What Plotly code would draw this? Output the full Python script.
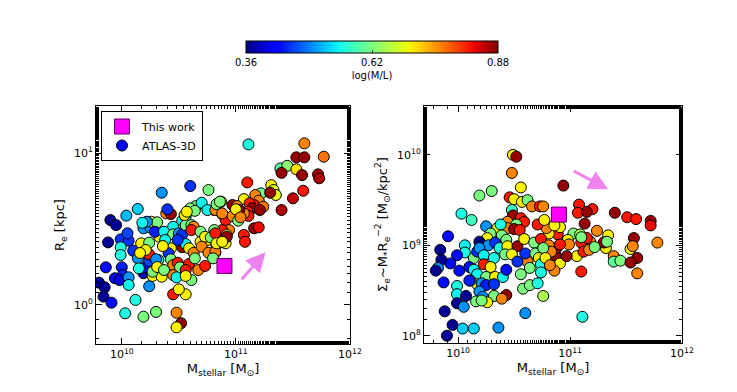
import numpy as np
import plotly.graph_objects as go

# ATLAS-3D, left panel: log10 M_stellar [Msun], log10 R_e [kpc], log(M/L)
left_logm = [11.11, 11.60, 11.77, 11.53, 11.60, 11.39, 11.45, 11.53, 11.40, 11.58,
             11.72, 11.73, 11.10, 11.59, 11.31, 11.33, 11.35, 11.22, 11.30, 11.50,
             11.40, 11.07, 11.17, 11.20, 11.16, 11.24, 11.12, 11.14, 11.21, 11.10,
             11.11, 11.07, 11.16, 11.20, 11.07, 11.08, 10.97, 11.01, 11.03, 10.87,
             10.81, 10.88, 10.91, 10.97, 11.02, 11.00, 11.04, 10.94, 10.88, 10.92,
             10.81, 10.81, 10.91, 10.83, 10.82, 10.92, 10.76, 10.35, 10.60, 10.14,
             10.04, 9.90, 9.95, 9.88, 9.99, 10.06, 10.05, 9.99, 9.99, 10.10,
             10.14, 9.86, 10.00, 10.01, 9.94, 9.98, 10.06, 10.06, 9.80, 9.85,
             9.84, 9.91, 10.12, 10.03, 10.19, 10.30, 10.48, 10.52, 10.48, 10.45,
             10.56, 10.50, 10.61, 10.24, 10.19, 10.21, 10.15, 10.27, 10.35, 10.27,
             10.32, 10.23, 10.24, 10.24, 10.17, 10.24, 10.21, 10.30, 10.19, 10.25,
             10.32, 10.33, 10.26, 10.31, 10.22, 10.18, 10.29, 10.39, 10.43, 10.40,
             10.45, 10.37, 10.45, 10.50, 10.53, 10.43, 10.41, 10.43, 10.45, 10.49,
             10.51, 10.45, 10.48, 10.53, 10.56, 10.59, 10.63, 10.59, 10.56, 10.56,
             10.67, 10.73, 10.64, 10.53, 10.56, 10.56, 10.61, 10.65, 10.60, 10.64,
             10.70, 10.75, 10.55, 10.57, 10.63, 10.61, 10.69, 10.75, 10.69, 10.73,
             10.78, 10.82, 10.82, 10.88, 10.83, 10.70, 10.76, 10.82, 10.80, 10.83,
             10.88, 10.86, 10.38, 10.36, 10.49, 10.31, 10.37, 10.16]
left_logr = [1.057, 1.064, 0.976, 0.972, 0.972, 0.899, 0.916, 0.893, 0.870, 0.855,
             0.860, 0.834, 0.807, 0.752, 0.789, 0.757, 0.724, 0.735, 0.739, 0.702,
             0.625, 0.697, 0.724, 0.686, 0.658, 0.647, 0.669, 0.636, 0.625, 0.614,
             0.586, 0.603, 0.505, 0.511, 0.461, 0.416, 0.658, 0.651, 0.625, 0.680,
             0.625, 0.599, 0.559, 0.586, 0.555, 0.630, 0.577, 0.493, 0.493, 0.461,
             0.449, 0.493, 0.406, 0.395, 0.344, 0.449, 0.757, 0.739, 0.783, 0.632,
             0.588, 0.559, 0.526, 0.412, 0.432, 0.423, 0.472, 0.380, 0.329, 0.357,
             0.307, 0.248, 0.248, 0.197, 0.176, 0.164, 0.182, 0.132, 0.147, 0.116,
             0.055, 0.015, 0.033, -0.055, -0.077, -0.046, -0.051, -0.120, -0.147, 0.070,
             0.070, 0.103, 0.164, 0.123, 0.209, 0.248, 0.241, 0.191, 0.186, 0.219,
             0.296, 0.329, 0.289, 0.334, 0.406, 0.410, 0.362, 0.301, 0.505, 0.511,
             0.467, 0.449, 0.548, 0.544, 0.548, 0.541, 0.482, 0.603, 0.599, 0.630,
             0.515, 0.482, 0.465, 0.472, 0.465, 0.373, 0.340, 0.301, 0.263, 0.278,
             0.248, 0.197, 0.182, 0.380, 0.401, 0.373, 0.344, 0.270, 0.230, 0.191,
             0.230, 0.257, 0.307, 0.555, 0.581, 0.526, 0.526, 0.651, 0.636, 0.620,
             0.673, 0.625, 0.592, 0.614, 0.515, 0.493, 0.482, 0.428, 0.416, 0.449,
             0.445, 0.472, 0.625, 0.603, 0.664, 0.384, 0.344, 0.351, 0.307, 0.406,
             0.416, 0.680, 0.428, 0.388, 0.428, 0.250, 0.230, 0.342]
left_ml = [0.56, 0.76, 0.77, 0.87, 0.87, 0.60, 0.63, 0.71, 0.87, 0.87,
           0.86, 0.86, 0.82, 0.82, 0.70, 0.68, 0.69, 0.61, 0.87, 0.85,
           0.86, 0.70, 0.76, 0.76, 0.82, 0.77, 0.82, 0.87, 0.87, 0.82,
           0.82, 0.76, 0.87, 0.83, 0.82, 0.82, 0.87, 0.76, 0.87, 0.70,
           0.76, 0.87, 0.82, 0.76, 0.62, 0.70, 0.76, 0.76, 0.82, 0.70,
           0.70, 0.62, 0.70, 0.76, 0.62, 0.87, 0.62, 0.50, 0.45, 0.53,
           0.52, 0.37, 0.37, 0.37, 0.45, 0.45, 0.46, 0.56, 0.56, 0.45,
           0.50, 0.43, 0.44, 0.44, 0.43, 0.40, 0.50, 0.55, 0.37, 0.37,
           0.37, 0.43, 0.56, 0.56, 0.62, 0.62, 0.76, 0.87, 0.70, 0.82,
           0.70, 0.70, 0.62, 0.50, 0.38, 0.42, 0.56, 0.70, 0.70, 0.62,
           0.55, 0.55, 0.46, 0.82, 0.70, 0.62, 0.70, 0.50, 0.50, 0.50,
           0.45, 0.70, 0.70, 0.62, 0.50, 0.55, 0.44, 0.76, 0.87, 0.45,
           0.55, 0.55, 0.62, 0.50, 0.45, 0.70, 0.45, 0.62, 0.76, 0.82,
           0.62, 0.76, 0.55, 0.87, 0.55, 0.70, 0.76, 0.82, 0.82, 0.70,
           0.76, 0.82, 0.62, 0.55, 0.55, 0.62, 0.62, 0.62, 0.62, 0.62,
           0.55, 0.55, 0.70, 0.70, 0.76, 0.82, 0.62, 0.70, 0.70, 0.70,
           0.62, 0.82, 0.76, 0.76, 0.62, 0.76, 0.76, 0.76, 0.62, 0.70,
           0.70, 0.62, 0.55, 0.70, 0.45, 0.70, 0.62, 0.70]

# ATLAS-3D, right panel: log10 M_stellar, log10 Sigma_e [Msun/kpc^2], log(M/L)
right_logm = [10.49, 10.52, 10.48, 10.56, 10.30, 10.19, 10.46, 10.50, 10.57, 10.62,
              10.66, 10.73, 10.03, 10.12, 10.48, 10.49, 10.56, 10.59, 10.44, 10.52,
              10.44, 10.50, 10.55, 10.25, 10.35, 10.38, 10.39, 10.29, 10.26, 9.91,
              10.19, 10.21, 10.27, 10.33, 10.37, 10.43, 10.44, 10.53, 10.59, 10.68,
              10.06, 9.84, 10.06, 9.99, 9.93, 9.85, 10.14, 10.17, 10.19, 10.23,
              10.23, 10.32, 10.42, 10.48, 10.62, 10.60, 10.69, 10.72, 10.74, 10.64,
              10.74, 9.82, 9.80, 10.01, 10.10, 10.14, 10.17, 10.29, 10.25, 10.33,
              10.40, 10.43, 10.53, 10.56, 10.17, 10.21, 10.25, 10.32, 10.11, 9.87,
              9.99, 10.10, 10.19, 10.22, 10.32, 9.99, 10.07, 10.16, 10.26, 10.21,
              10.43, 10.39, 10.58, 10.64, 10.71, 10.76, 9.99, 10.05, 9.88, 10.60,
              9.95, 10.04, 10.14, 10.36, 9.90, 10.94, 11.08, 11.07, 11.20, 11.15,
              11.40, 11.51, 11.59, 11.72, 11.72, 11.78, 11.57, 11.54, 11.60, 11.39,
              11.39, 11.45, 11.54, 11.60, 11.10, 11.11, 11.13, 11.34, 11.32, 11.30,
              11.24, 11.18, 11.10, 11.15, 11.06, 11.12, 11.17, 11.22, 11.03, 10.98,
              10.87, 10.91, 10.88, 10.89, 10.99, 10.91, 10.81, 10.91, 10.79, 10.71,
              10.74, 10.81, 10.83, 10.86, 10.86, 10.76, 10.78, 11.33, 11.56, 10.82,
              10.97, 11.09, 11.10, 10.77, 10.76]
right_logsig = [10.00, 9.98, 9.80, 9.64, 9.60, 9.55, 9.53, 9.51, 9.48, 9.50,
                9.43, 9.43, 9.35, 9.28, 9.39, 9.33, 9.30, 9.26, 9.26, 9.23,
                9.19, 9.18, 9.17, 9.21, 9.19, 9.23, 9.11, 9.13, 9.08, 9.10,
                9.04, 9.00, 9.00, 9.03, 8.97, 9.06, 8.99, 8.99, 9.07, 9.03,
                9.00, 8.95, 8.92, 8.89, 8.80, 8.84, 8.86, 8.93, 8.97, 8.89,
                8.79, 8.86, 8.90, 8.90, 8.82, 8.91, 8.91, 8.86, 8.79, 8.75,
                8.70, 8.75, 8.72, 8.72, 8.76, 8.73, 8.68, 8.76, 8.65, 8.65,
                8.65, 8.73, 8.82, 8.68, 8.57, 8.58, 8.56, 8.57, 8.61, 8.59,
                8.55, 8.61, 8.49, 8.43, 8.44, 8.46, 8.44, 8.38, 8.37, 8.39,
                8.45, 8.41, 8.52, 8.56, 8.58, 8.44, 8.36, 8.32, 8.27, 8.25,
                8.12, 8.08, 8.08, 8.09, 8.00, 9.66, 9.45, 9.36, 9.40, 9.37,
                9.36, 9.31, 9.29, 9.27, 9.22, 9.03, 9.08, 8.96, 8.86, 8.88,
                8.82, 8.83, 8.81, 8.69, 8.71, 8.21, 9.24, 9.11, 8.97, 9.03,
                9.16, 9.04, 9.03, 9.08, 8.88, 8.93, 8.95, 8.98, 9.13, 9.06,
                8.89, 8.80, 8.97, 9.12, 9.01, 9.01, 9.13, 9.20, 9.19, 9.23,
                9.07, 9.00, 8.93, 9.22, 8.72, 8.97, 8.86, 9.04, 8.99, 8.78,
                8.88, 9.12, 9.09, 9.28, 9.43]
right_ml = [0.70, 0.87, 0.76, 0.70, 0.62, 0.62, 0.82, 0.70, 0.70, 0.62,
            0.76, 0.82, 0.56, 0.58, 0.58, 0.87, 0.82, 0.82, 0.76, 0.62,
            0.76, 0.87, 0.82, 0.50, 0.70, 0.56, 0.62, 0.62, 0.70, 0.43,
            0.37, 0.37, 0.50, 0.45, 0.56, 0.62, 0.70, 0.87, 0.70, 0.62,
            0.55, 0.37, 0.56, 0.43, 0.43, 0.37, 0.62, 0.45, 0.50, 0.55,
            0.82, 0.56, 0.62, 0.70, 0.76, 0.45, 0.62, 0.70, 0.56, 0.62,
            0.56, 0.50, 0.37, 0.43, 0.43, 0.55, 0.55, 0.70, 0.62, 0.70,
            0.55, 0.43, 0.45, 0.62, 0.70, 0.50, 0.44, 0.45, 0.62, 0.43,
            0.56, 0.44, 0.50, 0.50, 0.62, 0.55, 0.37, 0.62, 0.70, 0.62,
            0.87, 0.76, 0.62, 0.62, 0.56, 0.65, 0.37, 0.50, 0.37, 0.50,
            0.37, 0.53, 0.53, 0.50, 0.37, 0.87, 0.82, 0.82, 0.82, 0.87,
            0.87, 0.82, 0.82, 0.87, 0.83, 0.76, 0.87, 0.70, 0.87, 0.76,
            0.60, 0.62, 0.87, 0.76, 0.82, 0.56, 0.87, 0.70, 0.70, 0.87,
            0.76, 0.76, 0.82, 0.82, 0.70, 0.82, 0.76, 0.62, 0.62, 0.70,
            0.87, 0.70, 0.87, 0.82, 0.76, 0.82, 0.70, 0.70, 0.76, 0.82,
            0.82, 0.76, 0.76, 0.70, 0.76, 0.62, 0.70, 0.62, 0.76, 0.76,
            0.87, 0.65, 0.62, 0.70, 0.76]

# this work
this_logm = 10.90
this_logr = 0.257
this_logsig = 9.34

# trend arrows (log units): tail -> head
left_arrow = [(11.04, 0.16), (11.26, 0.347)]
right_arrow = [(11.02, 9.83), (11.34, 9.62)]

mass_ticks = [1e10, 1e11, 1e12]
mass_ticktext = ["10<sup>10</sup>", "10<sup>11</sup>", "10<sup>12</sup>"]
r_ticks = [1, 10]
r_ticktext = ["10<sup>0</sup>", "10<sup>1</sup>"]
sig_ticks = [1e8, 1e9, 1e10]
sig_ticktext = ["10<sup>8</sup>", "10<sup>9</sup>", "10<sup>10</sup>"]

# matplotlib "jet"
jet = [[0.0, "rgb(0,0,128)"], [0.11, "rgb(0,0,255)"], [0.125, "rgb(0,0,255)"],
       [0.34, "rgb(0,219,255)"], [0.35, "rgb(0,230,247)"], [0.375, "rgb(21,255,234)"],
       [0.64, "rgb(238,255,8)"], [0.65, "rgb(247,245,0)"], [0.66, "rgb(255,236,0)"],
       [0.89, "rgb(255,19,0)"], [0.91, "rgb(232,0,0)"], [1.0, "rgb(128,0,0)"]]

W, H = 737, 392
OFF = 8  # page body margin: screen pixel = figure pixel + 8
FONT = "DejaVu Sans"


def fx(px):
    return (px - OFF) / W


def fy(py):
    return 1 - (py - OFF) / H


fig = go.Figure()

dot = dict(size=11, coloraxis="coloraxis", line=dict(color="black", width=1))
fig.add_trace(go.Scatter(
    x=10 ** np.array(left_logm), y=10 ** np.array(left_logr), mode="markers",
    marker=dict(color=left_ml, **dot), showlegend=False, xaxis="x", yaxis="y"))
fig.add_trace(go.Scatter(
    x=10 ** np.array(right_logm), y=10 ** np.array(right_logsig), mode="markers",
    marker=dict(color=right_ml, **dot), showlegend=False, xaxis="x2", yaxis="y2"))

square = dict(symbol="square", size=15, color="magenta", line=dict(color="#5a005a", width=1))
fig.add_trace(go.Scatter(x=[10 ** this_logm], y=[10 ** this_logr], mode="markers",
                         marker=square, name="This work", xaxis="x", yaxis="y"))
fig.add_trace(go.Scatter(x=[10 ** this_logm], y=[10 ** this_logsig], mode="markers",
                         marker=square, showlegend=False, xaxis="x2", yaxis="y2"))
# legend entry for ATLAS-3D
fig.add_trace(go.Scatter(x=[None], y=[None], mode="markers", name="ATLAS-3D",
                         marker=dict(size=11, color="blue", line=dict(color="black", width=1)),
                         xaxis="x", yaxis="y"))

for (t, h), xr, yr in [(left_arrow, "x", "y"), (right_arrow, "x2", "y2")]:
    fig.add_annotation(x=h[0], y=h[1], ax=t[0], ay=t[1], xref=xr, yref=yr,
                       axref=xr, ayref=yr, text="", showarrow=True, arrowhead=2,
                       arrowsize=1.3, arrowwidth=3, arrowcolor="violet")

axis_common = dict(type="log", showline=True, linecolor="black", linewidth=1,
                   mirror="ticks", ticks="inside", ticklen=6, tickcolor="black",
                   showgrid=False, zeroline=False,
                   minor=dict(ticks="inside", ticklen=3, tickcolor="black", showgrid=False),
                   tickfont=dict(family=FONT, size=11, color="black"),
                   title_font=dict(family=FONT, size=13, color="black"))

xtitle = "M<sub>stellar</sub> [M<sub>⊙</sub>]"
fig.update_layout(
    width=W, height=H,
    paper_bgcolor="white", plot_bgcolor="white",
    template="none",
    margin=dict(l=0, r=0, t=0, b=0),
    font=dict(family=FONT, size=12, color="black"),
    xaxis=dict(domain=[fx(96), fx(350)], range=[9.774, 12.0], anchor="y",
               tickvals=mass_ticks, ticktext=mass_ticktext,
               title=dict(text=xtitle, standoff=0), **axis_common),
    yaxis=dict(domain=[fy(344), fy(106)], range=[-0.257, 1.31], anchor="x",
               tickvals=r_ticks, ticktext=r_ticktext,
               title=dict(text="R<sub>e</sub> [kpc]", standoff=6), **axis_common),
    xaxis2=dict(domain=[fx(424), fx(682)], range=[9.695, 12.0], anchor="y2",
                tickvals=mass_ticks, ticktext=mass_ticktext,
                title=dict(text=xtitle, standoff=0), **axis_common),
    yaxis2=dict(domain=[fy(343), fy(106)], range=[7.92, 10.54], anchor="x2",
                tickvals=sig_ticks, ticktext=sig_ticktext,
                title=dict(text="Σ<sub>e</sub>~M<sub>*</sub>R<sub>e</sub><sup>−2</sup> [M<sub>⊙</sub>/kpc<sup>2</sup>]",
                           standoff=6), **axis_common),
    coloraxis=dict(
        colorscale=jet, cmin=0.36, cmax=0.88,
        colorbar=dict(orientation="h", x=fx(372), xanchor="center", y=fy(41), yanchor="top",
                      len=252 / W, lenmode="fraction", thickness=12, xpad=0, ypad=0,
                      outlinecolor="black", outlinewidth=1,
                      tickvals=[0.36, 0.62, 0.88], ticks="inside", ticklen=3, tickcolor="#444",
                      tickfont=dict(family=FONT, size=10, color="black"),
                      title=dict(text="log(M/L)", side="bottom",
                                 font=dict(family=FONT, size=10, color="black")))),
    legend=dict(x=fx(101), y=fy(111), xanchor="left", yanchor="top",
                bgcolor="white", bordercolor="black", borderwidth=1,
                font=dict(family=FONT, size=11, color="black"),
                tracegroupgap=0, itemsizing="trace"),
)

fig.write_html("out.html")
